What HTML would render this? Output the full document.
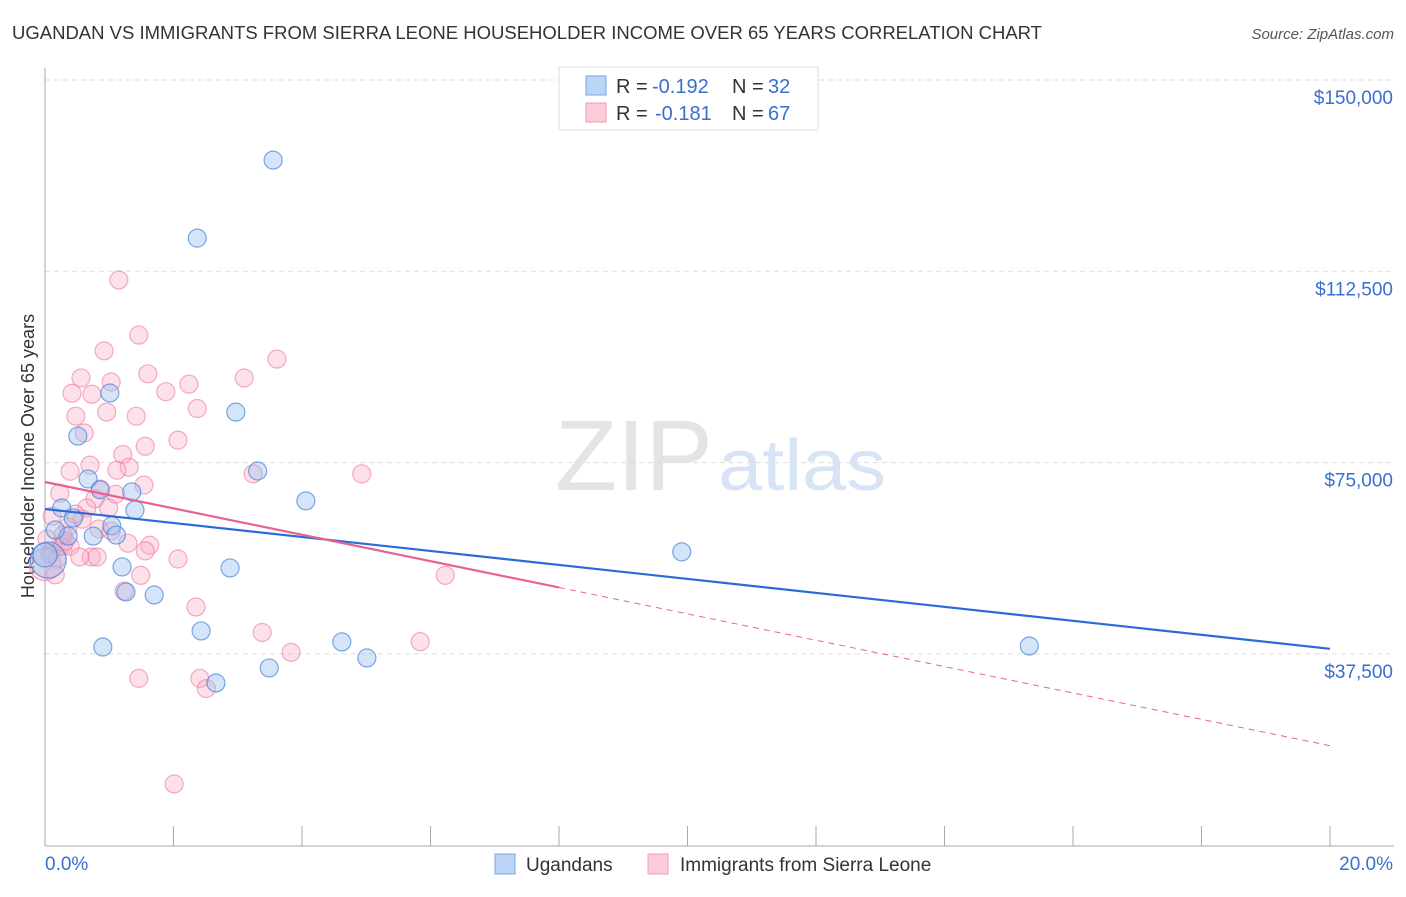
<!DOCTYPE html>
<html><head><meta charset="utf-8"><style>
body{margin:0;background:#fff;font-family:"Liberation Sans",sans-serif;}
svg text{font-family:"Liberation Sans",sans-serif;}
</style></head><body>
<svg id="c" width="1406" height="892">
<text x="12" y="39" font-size="18" fill="#333" textLength="1030" lengthAdjust="spacingAndGlyphs">UGANDAN VS IMMIGRANTS FROM SIERRA LEONE HOUSEHOLDER INCOME OVER 65 YEARS CORRELATION CHART</text>
<text x="1394" y="39" font-size="15" fill="#555" font-style="italic" text-anchor="end">Source: ZipAtlas.com</text>
<text x="555" y="490" font-size="100" fill="#e4e4e4" textLength="158" lengthAdjust="spacingAndGlyphs" font-family="Liberation Serif">ZIP</text>
<text x="718" y="490" font-size="72" fill="#d6e4f5" textLength="168" lengthAdjust="spacingAndGlyphs">atlas</text>
<text transform="translate(34,456) rotate(-90)" font-size="18" fill="#333" text-anchor="middle">Householder Income Over 65 years</text>
<g id="grid"></g><g id="pts"></g><g id="lines"></g>
<g>
<rect x="559" y="67" width="259" height="63" fill="#fff" stroke="#ddd"/>
<rect x="586" y="76" width="20" height="19" fill="#bcd4f5" stroke="#7aa6e6"/>
<rect x="586" y="103" width="20" height="19" fill="#fccbd8" stroke="#f09ab3"/>
<text x="616" y="93" font-size="20" fill="#333">R =</text>
<text x="652" y="93" font-size="20" fill="#3a6fcf">-0.192</text>
<text x="732" y="93" font-size="20" fill="#333">N =</text>
<text x="768" y="93" font-size="20" fill="#3a6fcf">32</text>
<text x="616" y="120" font-size="20" fill="#333">R =</text>
<text x="655" y="120" font-size="20" fill="#3a6fcf">-0.181</text>
<text x="732" y="120" font-size="20" fill="#333">N =</text>
<text x="768" y="120" font-size="20" fill="#3a6fcf">67</text>
</g>
<g>
<rect x="495" y="854" width="20" height="20" fill="#bcd4f5" stroke="#7aa6e6"/>
<text x="526" y="871" font-size="19" fill="#333">Ugandans</text>
<rect x="648" y="854" width="20" height="20" fill="#fccbd8" stroke="#f09ab3"/>
<text x="680" y="871" font-size="19" fill="#333">Immigrants from Sierra Leone</text>
</g>
</svg>
<script>
const yTicks=[37500,75000,112500,150000];
const yTickLabels=["$37,500","$75,000","$112,500","$150,000"];
const xTickLabels=["0.0%","20.0%"];
const blueX=[3.55,2.37,2.97,1.01,0.51,3.31,4.06,0.67,1.35,0.86,0.26,0.44,0.36,0.75,1.04,1.11,1.20,2.88,1.70,1.26,9.91,0.90,2.43,4.62,5.01,3.49,2.66,15.32,0.05,0.16,0.0,1.40];
const blueY=[134300,119000,84900,88650,80200,73350,67500,71800,69250,69650,66100,64150,60600,60600,62600,60800,54550,54350,49050,49650,57500,38850,42000,39850,36700,34750,31800,39050,55900,61800,56900,65700];
const blueR=[9,9,9,9,9,9,9,9,9,9,9,9,9,9,9,9,9,9,9,9,9,9,9,9,9,9,9,9,18,9,12,9];
const pinkX=[1.15,1.46,0.92,3.61,0.56,1.60,1.03,2.24,3.10,1.88,0.42,0.73,2.37,0.96,1.42,0.48,0.61,2.07,1.56,1.21,0.39,1.31,1.12,3.24,4.93,0.86,1.54,0.23,0.78,1.10,0.65,0.99,0.11,0.58,0.36,0.84,1.03,1.29,1.63,0.23,0.39,2.07,1.56,0.72,0.81,0.28,6.23,1.49,1.23,2.35,3.38,5.84,3.83,1.46,2.41,2.51,2.01,0.08,0.19,0.0,0.47,0.28,0.16,0.54,0.03,0.70,0.31];
const pinkY=[110800,100000,96900,95300,91600,92400,90800,90400,91600,88900,88600,88400,85600,84900,84100,84100,80800,79400,78200,76600,73300,74100,73500,72800,72800,69800,70600,69000,67900,68800,66100,66100,64500,63900,62400,62000,61600,59200,58800,58600,58600,56100,57700,56500,56500,58600,52900,52900,49800,46700,41700,39900,37800,32700,32700,30700,12000,57100,56100,55000,64900,60800,53000,56500,60000,74500,59600];
const pinkR=[9,9,9,9,9,9,9,9,9,9,9,9,9,9,9,9,9,9,9,9,9,9,9,9,9,9,9,9,9,9,9,9,9,9,9,9,9,9,9,9,9,9,9,9,9,9,9,9,9,9,9,9,9,9,9,9,9,9,9,16,9,9,9,9,9,9,9];
const blueLine=[65900,38500];
const pinkLine=[71200,19500];
const X0=45,X1=1330,YTOP=80,PX=191.3/37500;
const xs=v=>X0+(X1-X0)*v/20;
const ys=v=>YTOP+(150000-v)*PX;
const NS="http://www.w3.org/2000/svg";
function mk(tag,attrs,parent){const e=document.createElementNS(NS,tag);for(const k in attrs)e.setAttribute(k,attrs[k]);parent.appendChild(e);return e;}
const g=document.getElementById('grid');
yTicks.forEach((t,i)=>{
 const l=mk('line',{x1:X0,x2:1394,y1:ys(t),y2:ys(t),stroke:'#ddd','stroke-dasharray':'5,4'},g);
 
 
 const tx=mk('text',{x:1393,y:ys(t)+24,'font-size':19,fill:'#3a6fcf','text-anchor':'end'},g);
 tx.textContent=yTickLabels[i];
 
 
});
const ax=mk('line',{x1:X0,x2:X0,y1:68,y2:846,stroke:'#aaa'},g);


const bx=mk('line',{x1:X0,x2:1394,y1:846,y2:846,stroke:'#aaa'},g);


for(let i=0;i<=10;i++){const t=mk('line',{x1:xs(i*2),x2:xs(i*2),y1:826,y2:846,stroke:'#aaa'},g);
 
 }
[[xTickLabels[0],X0,'start'],[xTickLabels[1],1393,'end']].forEach(a=>{const t=mk('text',{x:a[1],y:870,'font-size':19,fill:'#3a6fcf','text-anchor':a[2]},g);t.textContent=a[0];
 
 });
const p=document.getElementById('pts');
pinkX.forEach((x,i)=>{const c=mk('circle',{cx:xs(x),cy:ys(pinkY[i]),r:pinkR[i],fill:'rgba(248,170,195,0.35)',stroke:'rgba(236,120,155,0.6)','stroke-width':1.2},p);
 
 });
blueX.forEach((x,i)=>{const c=mk('circle',{cx:xs(x),cy:ys(blueY[i]),r:blueR[i],fill:'rgba(150,190,240,0.4)',stroke:'rgba(70,130,220,0.7)','stroke-width':1.2},p);
 
 });
const L=document.getElementById('lines');
const bl=mk('line',{x1:xs(0),y1:ys(blueLine[0]),x2:xs(20),y2:ys(blueLine[1]),stroke:'#2a6bd6','stroke-width':2.2},L);


const pm=pinkLine[0]+(pinkLine[1]-pinkLine[0])*0.4;
const pl=mk('line',{x1:xs(0),y1:ys(pinkLine[0]),x2:xs(8),y2:ys(pm),stroke:'#e8628f','stroke-width':2.2},L);


const pd=mk('line',{x1:xs(8),y1:ys(pm),x2:xs(20),y2:ys(pinkLine[1]),stroke:'#e8628f','stroke-width':1,'stroke-dasharray':'6,5'},L);


</script>
</body></html>
